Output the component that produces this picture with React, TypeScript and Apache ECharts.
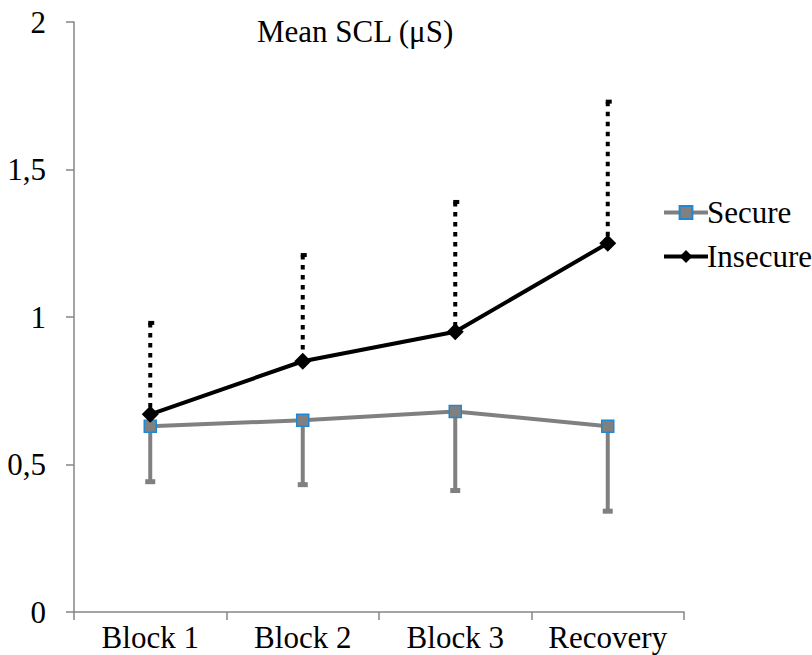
import React, { useEffect, useRef } from "react";
import * as echarts from "echarts";

const categories = ["Block 1", "Block 2", "Block 3", "Recovery"];
const secureMean = [0.63, 0.65, 0.68, 0.63];
const secureLow = [0.44, 0.43, 0.41, 0.34];
const insecureMean = [0.67, 0.85, 0.95, 1.25];
const insecureHigh = [0.98, 1.21, 1.39, 1.73];
const yTicks = [0, 0.5, 1, 1.5, 2];

const FONT = "Liberation Serif";
const serif = { fontFamily: FONT, fontSize: 31, color: "#000" };

export default function App() {
  const ref = useRef<HTMLDivElement>(null);
  useEffect(() => {
    document.body.style.margin = "0";
    const chart = echarts.init(ref.current!, null, { renderer: "svg" });
    const secureErr = categories.map((_, i) => [i, secureMean[i], secureLow[i]]);
    const insecureErr = categories.map((_, i) => [i, insecureMean[i], insecureHigh[i]]);
    chart.setOption({
      animation: false,
      backgroundColor: "#ffffff",
      textStyle: { fontFamily: FONT, fontSize: 31 },
      graphic: [
        {
          type: "text",
          left: 257,
          top: 16,
          style: { text: "Mean SCL (\u03bcS)", fontFamily: FONT, fontSize: 31, fill: "#000" },
        },
      ],
      grid: { left: 74, right: 128, top: 22, bottom: 43 },
      legend: {
        orient: "vertical",
        left: 657,
        top: 192,
        itemWidth: 44,
        itemHeight: 16,
        itemGap: 13,
        lineStyle: { width: 4 },
        textStyle: { ...serif, padding: [0, 0, 0, -6] },
        data: ["Secure", "Insecure"],
      },
      xAxis: {
        type: "category",
        data: categories,
        boundaryGap: true,
        axisLine: { lineStyle: { color: "#868686", width: 1.5 } },
        axisTick: { show: true, length: 8, alignWithLabel: false, lineStyle: { color: "#868686", width: 1.5 } },
        axisLabel: { interval: 0, ...serif, margin: 10 },
        splitLine: { show: false },
      },
      yAxis: {
        type: "value",
        min: 0,
        max: 2,
        interval: 0.5,
        axisLine: { show: true, lineStyle: { color: "#868686", width: 1.5 } },
        axisTick: { show: true, length: 8, lineStyle: { color: "#868686", width: 1.5 } },
        axisLabel: {
          ...serif,
          margin: 28,
          formatter: (v: number) => {
            const t = yTicks.find((x) => Math.abs(x - v) < 1e-9);
            return String(t !== undefined ? t : v).replace(".", ",");
          },
        },
        splitLine: { show: false },
      },
      series: [
        {
          type: "custom",
          name: "secureErr",
          z: 1,
          data: secureErr,
          renderItem: (params: any, api: any) => {
            const x = api.value(0);
            const p1 = api.coord([x, api.value(1)]);
            const p2 = api.coord([x, api.value(2)]);
            return {
              type: "group",
              children: [
                {
                  type: "line",
                  shape: { x1: p1[0], y1: p1[1], x2: p2[0], y2: p2[1] },
                  style: { stroke: "#808080", lineWidth: 4 },
                },
                {
                  type: "rect",
                  shape: { x: p2[0] - 5, y: p2[1] - 3, width: 10, height: 5 },
                  style: { fill: "#808080" },
                },
              ],
            };
          },
        },
        {
          type: "custom",
          name: "insecureErr",
          z: 1,
          data: insecureErr,
          renderItem: (params: any, api: any) => {
            const x = api.value(0);
            const p1 = api.coord([x, api.value(1)]);
            const p2 = api.coord([x, api.value(2)]);
            return {
              type: "group",
              children: [
                {
                  type: "line",
                  shape: { x1: p2[0], y1: p2[1], x2: p1[0], y2: p1[1] },
                  style: { stroke: "#000", lineWidth: 4, lineDash: [4.5, 5.5], lineCap: "butt" },
                },
                {
                  type: "rect",
                  shape: { x: p2[0] - 2, y: p2[1] - 2, width: 6, height: 4 },
                  style: { fill: "#000" },
                },
              ],
            };
          },
        },
        {
          type: "line",
          name: "Secure",
          z: 3,
          data: secureMean,
          symbol: "rect",
          symbolSize: 12,
          lineStyle: { color: "#808080", width: 4 },
          itemStyle: { color: "#808080", borderColor: "#2087d0", borderWidth: 1.5 },
        },
        {
          type: "line",
          name: "Insecure",
          z: 4,
          data: insecureMean,
          symbol: "diamond",
          symbolSize: 17,
          lineStyle: { color: "#000", width: 4 },
          itemStyle: { color: "#000" },
        },
      ],
    });
    return () => chart.dispose();
  }, []);
  return <div ref={ref} style={{ position: "fixed", left: 0, top: 0, width: 812, height: 655 }} />;
}
